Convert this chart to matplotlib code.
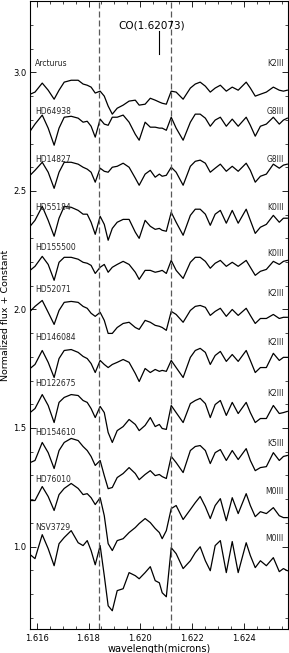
import matplotlib
matplotlib.use("Agg")
import matplotlib.pyplot as plt
from matplotlib.ticker import MultipleLocator

wavelength = [1.61574, 1.61593, 1.61621, 1.61644, 1.61667, 1.61686, 1.61706, 1.61733, 1.61760, 1.61779,
              1.61795, 1.61810, 1.61826, 1.61845, 1.61861, 1.61876, 1.61892, 1.61911, 1.61934, 1.61957,
              1.61981, 1.61996, 1.62019, 1.62039, 1.62058, 1.62074, 1.62085, 1.62101, 1.62120, 1.62139,
              1.62166, 1.62194, 1.62213, 1.62232, 1.62252, 1.62271, 1.62290, 1.62310, 1.62333, 1.62356,
              1.62379, 1.62410, 1.62426, 1.62445, 1.62465, 1.62488, 1.62515, 1.62538, 1.62554, 1.62569]

stars = ["Arcturus", "HD64938", "HD14827", "HD55184", "HD155500", "HD52071",
         "HD146084", "HD122675", "HD154610", "HD76010", "NSV3729"]
sptypes = ["K2III", "G8III", "G8III", "K0III", "K0III", "K2III",
           "K2III", "K2III", "K5III", "M0III", "M0III"]

arcturus = [2.908, 2.917, 2.955, 2.925, 2.887, 2.925, 2.959, 2.967, 2.967, 2.951,
            2.946, 2.938, 2.913, 2.921, 2.900, 2.858, 2.824, 2.849, 2.862, 2.879,
            2.883, 2.862, 2.866, 2.891, 2.883, 2.875, 2.870, 2.866, 2.921, 2.917,
            2.887, 2.934, 2.951, 2.959, 2.942, 2.917, 2.934, 2.946, 2.921, 2.938,
            2.925, 2.959, 2.934, 2.900, 2.908, 2.917, 2.938, 2.925, 2.921, 2.925]
hd64938 = [2.752, 2.782, 2.820, 2.765, 2.693, 2.765, 2.811, 2.815, 2.807, 2.790,
           2.794, 2.773, 2.727, 2.803, 2.782, 2.777, 2.811, 2.811, 2.820, 2.790,
           2.739, 2.714, 2.790, 2.769, 2.769, 2.765, 2.765, 2.756, 2.811, 2.765,
           2.714, 2.790, 2.824, 2.824, 2.807, 2.773, 2.799, 2.811, 2.773, 2.803,
           2.773, 2.811, 2.777, 2.731, 2.773, 2.782, 2.811, 2.782, 2.799, 2.807]
hd14827 = [2.566, 2.587, 2.621, 2.579, 2.511, 2.579, 2.621, 2.621, 2.613, 2.600,
           2.592, 2.579, 2.537, 2.596, 2.583, 2.579, 2.600, 2.604, 2.617, 2.600,
           2.554, 2.524, 2.571, 2.587, 2.558, 2.571, 2.562, 2.566, 2.600, 2.579,
           2.524, 2.604, 2.625, 2.630, 2.617, 2.579, 2.596, 2.613, 2.583, 2.604,
           2.583, 2.617, 2.587, 2.537, 2.562, 2.571, 2.613, 2.596, 2.609, 2.613]
hd55184 = [2.351, 2.376, 2.435, 2.376, 2.309, 2.385, 2.435, 2.431, 2.418, 2.402,
           2.402, 2.368, 2.317, 2.393, 2.359, 2.292, 2.342, 2.368, 2.380, 2.380,
           2.326, 2.300, 2.376, 2.351, 2.338, 2.342, 2.334, 2.330, 2.410, 2.368,
           2.313, 2.397, 2.423, 2.423, 2.402, 2.355, 2.402, 2.418, 2.364, 2.418,
           2.364, 2.423, 2.376, 2.321, 2.347, 2.359, 2.397, 2.368, 2.385, 2.385]
hd155500 = [2.165, 2.182, 2.224, 2.190, 2.123, 2.199, 2.220, 2.220, 2.212, 2.199,
            2.195, 2.186, 2.152, 2.178, 2.190, 2.157, 2.178, 2.190, 2.203, 2.190,
            2.157, 2.127, 2.165, 2.165, 2.157, 2.161, 2.165, 2.152, 2.207, 2.165,
            2.131, 2.199, 2.220, 2.220, 2.203, 2.174, 2.195, 2.207, 2.182, 2.199,
            2.182, 2.207, 2.178, 2.144, 2.161, 2.169, 2.203, 2.190, 2.203, 2.207]
hd52071 = [1.992, 2.013, 2.038, 1.988, 1.937, 1.996, 2.030, 2.034, 2.030, 2.013,
           2.005, 1.984, 1.971, 1.988, 1.954, 1.899, 1.899, 1.924, 1.941, 1.946,
           1.924, 1.916, 1.954, 1.946, 1.933, 1.929, 1.924, 1.912, 1.992, 1.979,
           1.946, 1.996, 2.013, 2.017, 2.009, 1.975, 1.992, 2.005, 1.971, 2.000,
           1.975, 2.005, 1.975, 1.941, 1.962, 1.962, 1.979, 1.962, 1.967, 1.967]
hd146084 = [1.751, 1.768, 1.827, 1.777, 1.713, 1.793, 1.827, 1.831, 1.819, 1.802,
            1.793, 1.772, 1.734, 1.785, 1.768, 1.755, 1.768, 1.777, 1.789, 1.777,
            1.730, 1.696, 1.751, 1.734, 1.747, 1.739, 1.743, 1.739, 1.785, 1.755,
            1.713, 1.798, 1.827, 1.836, 1.819, 1.768, 1.806, 1.823, 1.781, 1.810,
            1.781, 1.827, 1.785, 1.734, 1.755, 1.755, 1.815, 1.785, 1.798, 1.798]
hd122675 = [1.565, 1.582, 1.641, 1.595, 1.523, 1.608, 1.629, 1.641, 1.637, 1.616,
            1.608, 1.582, 1.544, 1.591, 1.565, 1.481, 1.439, 1.489, 1.506, 1.536,
            1.515, 1.489, 1.511, 1.544, 1.506, 1.515, 1.498, 1.494, 1.595, 1.565,
            1.523, 1.603, 1.616, 1.625, 1.603, 1.544, 1.599, 1.616, 1.553, 1.608,
            1.561, 1.608, 1.565, 1.523, 1.540, 1.540, 1.595, 1.561, 1.565, 1.570]
hd154610 = [1.354, 1.363, 1.439, 1.396, 1.329, 1.405, 1.439, 1.456, 1.447, 1.422,
            1.405, 1.380, 1.342, 1.363, 1.299, 1.244, 1.249, 1.291, 1.308, 1.333,
            1.308, 1.282, 1.304, 1.320, 1.299, 1.304, 1.295, 1.287, 1.380, 1.354,
            1.312, 1.405, 1.422, 1.426, 1.405, 1.350, 1.396, 1.409, 1.363, 1.405,
            1.367, 1.413, 1.363, 1.320, 1.333, 1.337, 1.396, 1.363, 1.380, 1.384]
hd76010 = [1.194, 1.194, 1.253, 1.211, 1.152, 1.219, 1.245, 1.266, 1.245, 1.219,
           1.223, 1.206, 1.177, 1.206, 1.130, 1.012, 0.983, 1.025, 1.033, 1.059,
           1.080, 1.097, 1.118, 1.101, 1.076, 1.059, 1.033, 1.067, 1.160, 1.173,
           1.114, 1.156, 1.185, 1.211, 1.168, 1.118, 1.173, 1.202, 1.109, 1.206,
           1.139, 1.223, 1.173, 1.126, 1.147, 1.139, 1.164, 1.130, 1.122, 1.122]
nsv3729 = [0.966, 0.949, 1.050, 0.991, 0.919, 1.012, 1.038, 1.067, 1.016, 1.004,
           1.025, 0.983, 0.923, 1.004, 0.877, 0.750, 0.729, 0.814, 0.822, 0.890,
           0.877, 0.864, 0.890, 0.915, 0.856, 0.847, 0.805, 0.788, 0.995, 0.970,
           0.907, 0.940, 0.974, 0.999, 0.940, 0.898, 1.004, 1.025, 0.890, 1.021,
           0.890, 1.016, 0.962, 0.911, 0.940, 0.919, 0.953, 0.894, 0.907, 0.898]

spectra = [arcturus, hd64938, hd14827, hd55184, hd155500, hd52071,
           hd146084, hd122675, hd154610, hd76010, nsv3729]

name_y = [3.036, 2.837, 2.633, 2.432, 2.263, 2.083, 1.883, 1.687, 1.482, 1.281, 1.082]
type_y = [3.036, 2.837, 2.633, 2.432, 2.236, 2.069, 1.860, 1.647, 1.433, 1.233, 1.035]

dashed_lines = [1.6184, 1.6212]
co_line = 1.62073

plt.rcParams['font.family'] = 'DejaVu Sans'
fig = plt.figure(figsize=(2.89, 6.53), dpi=100)
ax = fig.add_axes([0.105, 0.036, 0.89, 0.962])

for flux in spectra:
    ax.plot(wavelength, flux, color='k', lw=0.9)

for i in range(len(stars)):
    ax.text(1.61593, name_y[i], stars[i], fontsize=5.5, color='0.15', ha='left', va='center')
    ax.text(1.62555, type_y[i], sptypes[i], fontsize=5.5, color='0.15', ha='right', va='center')

for x in dashed_lines:
    ax.axvline(x, color='0.35', lw=0.9, dashes=(4.8, 2.4))

ax.plot([co_line, co_line], [3.077, 3.174], color='k', lw=0.8)
ax.text(1.62045, 3.197, "CO(1.62073)", fontsize=7.5, ha='center', va='center')

ax.set_xlim(1.61575, 1.6257)
ax.set_ylim(0.65, 3.3)
ax.xaxis.set_major_locator(MultipleLocator(0.002))
ax.xaxis.set_minor_locator(MultipleLocator(0.0005))
ax.yaxis.set_major_locator(MultipleLocator(0.5))
ax.yaxis.set_minor_locator(MultipleLocator(0.1))
ax.xaxis.set_major_formatter(plt.FormatStrFormatter('%.3f'))
ax.yaxis.set_major_formatter(plt.FormatStrFormatter('%.1f'))
ax.tick_params(which='both', direction='in', top=True, right=True, labelsize=6, pad=3)
ax.tick_params(which='major', length=4, width=0.6)
ax.tick_params(which='minor', length=2, width=0.5)
for s in ax.spines.values():
    s.set_linewidth(0.8)

ax.set_xlabel("wavelength(microns)", fontsize=7, labelpad=1)
ax.set_ylabel("Normalized flux + Constant", fontsize=6.8, labelpad=2)

fig.savefig("out.png", dpi=100)
